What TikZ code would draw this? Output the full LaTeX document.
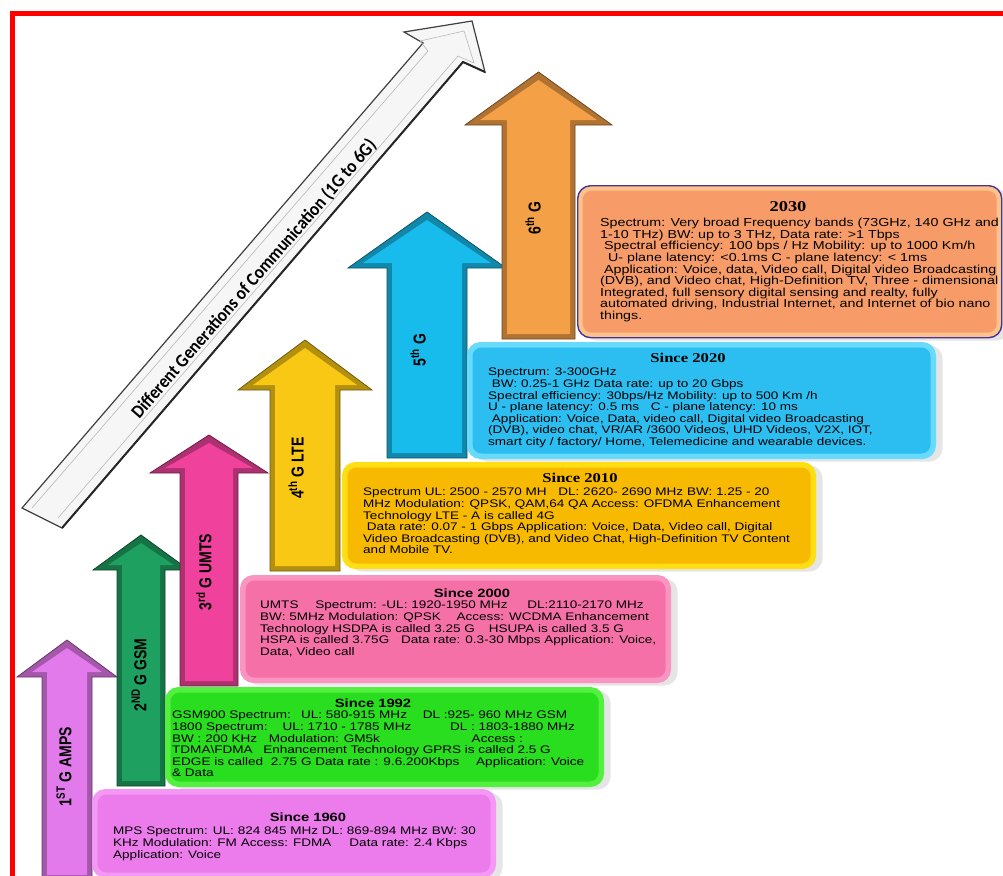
\documentclass[tikz,border=0pt]{standalone}
\usepackage{graphicx}
\usepackage{fontspec}
\setmainfont{Liberation Sans}
\newfontfamily\boxfont[FakeStretch=1.23]{Liberation Sans}
\newfontfamily\headfont[FakeStretch=1.23]{Liberation Serif}
\newfontfamily\bannerfont{Carlito}
\usetikzlibrary{positioning,shadows}

\definecolor{amps}{RGB}{226,122,236}
\definecolor{gsm}{RGB}{30,160,96}
\definecolor{umts}{RGB}{240,66,156}
\definecolor{lte}{RGB}{248,200,20}
\definecolor{nr}{RGB}{24,188,236}
\definecolor{sixg}{RGB}{244,160,70}
\definecolor{rimA}{RGB}{245,152,245}
\definecolor{boxA}{RGB}{236,124,236}
\definecolor{rimB}{RGB}{84,240,64}
\definecolor{boxB}{RGB}{40,222,30}
\definecolor{rimC}{RGB}{250,148,192}
\definecolor{boxC}{RGB}{246,112,168}
\definecolor{rimD}{RGB}{255,222,20}
\definecolor{boxD}{RGB}{248,186,0}
\definecolor{rimE}{RGB}{104,218,252}
\definecolor{boxE}{RGB}{44,190,240}
\definecolor{rimF}{RGB}{252,196,140}
\definecolor{boxF}{RGB}{247,156,104}
\definecolor{rimline}{RGB}{72,52,150}

\newcommand{\tallG}[1]{\scalebox{1}[1.23]{#1}}

\tikzset{
  genbox/.style n args={3}{rounded corners=13pt, fill=#1, draw=#3, line width=1pt,
    inner sep=0pt, anchor=north west,
    drop shadow={opacity=0.2, shadow xshift=7pt, shadow yshift=-3pt},
    path picture={\fill[#2, rounded corners=9pt]
      ([shift={(5pt,-5pt)}]path picture bounding box.north west) rectangle
      ([shift={(-5pt,5pt)}]path picture bounding box.south east);}},
  boxtitle/.style={font=\boxfont\bfseries\fontsize{12}{13}\selectfont, inner sep=0pt},
  yeartitle/.style={font=\headfont\bfseries\fontsize{13.5}{14}\selectfont, inner sep=0pt},
  boxtext/.style={font=\boxfont\fontsize{11}{11.6}\selectfont, align=left,
    inner sep=0pt, anchor=north west},
  genlabel/.style={font=\bfseries\fontsize{14}{15}\selectfont, rotate=90, inner sep=0pt},
  bannertext/.style={font=\bannerfont\bfseries\fontsize{17}{18}\selectfont, inner sep=0pt}
}

\begin{document}
\begin{tikzpicture}[x=1pt, y=-1pt]
  \useasboundingbox (0,0) rectangle (1003,875);
  \fill[white] (0,0) rectangle (1003,875);

  % frame
  \draw[red, line width=5pt] (12,880) -- (12,14) -- (1010,14);

  % big arrow
  \filldraw[fill=gray!7, draw=black!75, line width=1.2pt]
    (22,508) -- (423,43) -- (404,32) -- (472,21) -- (485,72) -- (463,62) -- (62,528) -- cycle;
  \draw[black!85, line width=2pt] (485,72) -- (463,62) -- (62,528);
  \draw[gray!55, line width=0.6pt]
    (32,508) -- (428,51) -- (420,41) -- (464,31) -- (474,63) -- (458,56) -- (58,518);
  \node[bannertext, rotate=49] (banner) at (254,279)
    {\scalebox{1}[1.1]{Different Generations of Communication (1G to 6G)}};

  % generation arrows
  \foreach \sl/\sr/\bot/\hb/\tip/\bl/\br/\col in
    {42/92/880/677/640/17/117/amps, 117/165/786/570/535/93/189/gsm,
     180/238/686/473/435/150/268/umts, 270/340/571/390/340/238/372/lte,
     387/467/458/268/212/348/506/nr, 502/575/339/125/72/465/612/sixg}
  {
    \filldraw[draw=\col!45!black, fill=\col!72!black, line width=0.8pt]
      (\sl,\bot) -- (\sl,\hb) -- (\bl,\hb) -- ({(\sl+\sr)/2},\tip)
      -- (\br,\hb) -- (\sr,\hb) -- (\sr,\bot) -- cycle;
    \fill[\col]
      (\sl+5,\bot-5) -- (\sl+5,\hb-5) -- (\bl+15,\hb-5) -- ({(\sl+\sr)/2},\tip+8)
      -- (\br-15,\hb-5) -- (\sr-5,\hb-5) -- (\sr-5,\bot-5) -- cycle;
  }
  \node[genlabel] (g1) at (64,767) {\tallG{1\textsuperscript{ST} G AMPS}};
  \node[genlabel] (g2) at (139,675) {\tallG{2\textsuperscript{ND} G GSM}};
  \node[genlabel] (g3) at (204,572) {\tallG{3\textsuperscript{rd} G UMTS}};
  \node[genlabel] (g4) at (296,468) {\tallG{4\textsuperscript{th} G LTE}};
  \node[genlabel] (g5) at (418,350) {\tallG{5\textsuperscript{th} G}};
  \node[genlabel] (g6) at (533,218) {\tallG{6\textsuperscript{th} G}};

  % 2030
  \node[genbox={rimF}{boxF}{rimline}, line width=1.4pt, minimum width=424, minimum height=152]
    (box2030) at (577,185) {};
  \node[yeartitle, font=\headfont\bfseries\fontsize{15}{16}\selectfont] (t2030) at (788,207) {2030};
  \node[boxtext, font=\boxfont\fontsize{11.6}{11.6}\selectfont] (d2030) at (600,218)
    {Spectrum: Very broad Frequency bands (73GHz, 140 GHz and\\
     1-10 THz) BW: up to 3 THz, Data rate: >1 Tbps\\
     \ Spectral efficiency: 100 bps / Hz Mobility: up to 1000 Km/h\\
     \ \ U- plane latency: <0.1ms C - plane latency: < 1ms\\
     \ Application: Voice, data, Video call, Digital video Broadcasting\\
     (DVB), and Video chat, High-Definition TV, Three - dimensional\\
     Integrated, full sensory digital sensing and realty, fully\\
     automated driving, Industrial Internet, and Internet of bio nano\\
     things.};

  % since 2020
  \node[genbox={rimE}{boxE}{rimE}, minimum width=468, minimum height=116]
    (box2020) at (467,342) {};
  \node[yeartitle] (t2020) at (688,358) {Since 2020};
  \node[boxtext] (d2020) at (488,368)
    {Spectrum: 3-300GHz\\
     \ BW: 0.25-1 GHz Data rate: up to 20 Gbps\\
     Spectral efficiency: 30bps/Hz Mobility: up to 500 Km /h\\
     U - plane latency: 0.5 ms\hspace{8pt} C - plane latency: 10 ms\\
     \ Application: Voice, Data, video call, Digital video Broadcasting\\
     (DVB), video chat, VR/AR /3600 Videos, UHD Videos, V2X, IOT,\\
     smart city / factory/ Home, Telemedicine and wearable devices.};

  % since 2010
  \node[genbox={rimD}{boxD}{rimD}, minimum width=473, minimum height=106]
    (box2010) at (342,462) {};
  \node[yeartitle] (t2010) at (580,478) {Since 2010};
  \node[boxtext] (d2010) at (363,488)
    {Spectrum UL: 2500 - 2570 MH\hspace{8pt} DL: 2620- 2690 MHz BW: 1.25 - 20\\
     MHz Modulation: QPSK, QAM,64 QA Access: OFDMA Enhancement\\
     Technology LTE - A is called 4G\\
     \ Data rate: 0.07 - 1 Gbps Application: Voice, Data, Video call, Digital\\
     Video Broadcasting (DVB), and Video Chat, High-Definition TV Content\\
     and Mobile TV.};

  % since 2000
  \node[genbox={rimC}{boxC}{rimC}, minimum width=430, minimum height=107]
    (box2000) at (240,575) {};
  \node[boxtitle] (t2000) at (472,593) {Since 2000};
  \node[boxtext] (d2000) at (260,601)
    {UMTS\hspace{13pt} Spectrum: -UL: 1920-1950 MHz\hspace{16pt} DL:2110-2170 MHz\\
     BW: 5MHz Modulation: QPSK\hspace{12pt} Access: WCDMA Enhancement\\
     Technology HSDPA is called 3.25 G\hspace{10pt} HSUPA is called 3.5 G\\
     HSPA is called 3.75G\hspace{8pt} Data rate: 0.3-30 Mbps Application: Voice,\\
     Data, Video call};

  % since 1992
  \node[genbox={rimB}{boxB}{rimB}, minimum width=438, minimum height=99]
    (box1992) at (165,687) {};
  \node[boxtitle] (t1992) at (373,703) {Since 1992};
  \node[boxtext] (d1992) at (172,711)
    {GSM900 Spectrum:\hspace{5pt} UL: 580-915 MHz\hspace{12pt} DL :925- 960 MHz GSM\\
     1800 Spectrum:\hspace{10pt} UL: 1710 - 1785 MHz\hspace{35pt} DL : 1803-1880 MHz\\
     BW : 200 KHz\hspace{8pt} Modulation: GM5k\hspace{88pt} Access :\\
     TDMA\textbackslash FDMA\hspace{7pt} Enhancement Technology GPRS is called 2.5 G\\
     EDGE is called\hspace{4pt} 2.75 G Data rate : 9.6.200Kbps\hspace{13pt} Application: Voice\\
     \& Data};

  % since 1960
  \node[genbox={rimA}{boxA}{rimA}, minimum width=403, minimum height=88]
    (box1960) at (92,789) {};
  \node[boxtitle] (t1960) at (308,817) {Since 1960};
  \node[boxtext] (d1960) at (113,827)
    {MPS Spectrum: UL: 824 845 MHz DL: 869-894 MHz BW: 30\\
     KHz Modulation: FM Access: FDMA\hspace{18pt}Data rate: 2.4 Kbps\\
     Application: Voice};
\end{tikzpicture}
\end{document}
